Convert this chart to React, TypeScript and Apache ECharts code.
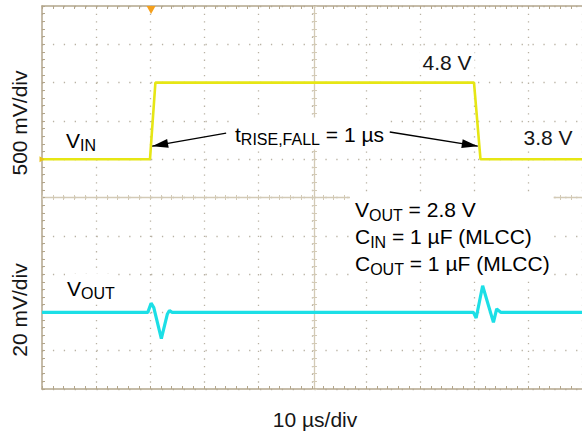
import React, { useEffect, useRef } from "react";
import * as echarts from "echarts";

// ---- Data read from the scope capture ----
// Time axis: 10 µs/div, 10 divisions
const timeMinUs = 0;
const timeMaxUs = 100;
const timeDivUs = 10;

// VIN channel (500 mV/div), 3.8 V level sits on division 6
const vinTimeUs = [0, 20, 21, 80, 81.2, 100];
const vinVolts = [3.8, 3.8, 4.8, 4.8, 3.8, 3.8];

// VOUT channel (20 mV/div, AC), baseline on division 2
const voutTimeUs = [0, 19.6, 20.2, 20.7, 22.1, 23.2, 23.6, 24.1, 79.9, 80.4, 81.6, 83.6, 84.2, 85.0, 100];
const voutDeviationMv = [0, 0, 4.8, 2.5, -13.7, -1.0, 1.0, 0, 0, -2.9, 13.9, -5.2, 1.8, 0, 0];

// Annotation arrows (time µs, VIN volts)
const arrowTailUs = [34.1, 64.4];
const arrowTailV = [4.14, 4.155];
const arrowTipUs = [20.4, 80.7];
const arrowTipV = [3.97, 3.97];

// Channel scaling
const VIN_V_PER_DIV = 0.5;
const VIN_REF_V = 3.8;
const VIN_REF_DIV = 6;
const VOUT_MV_PER_DIV = 20;
const VOUT_REF_DIV = 2;
const DIVISIONS = 10;

const vinToDiv = (v: number) => VIN_REF_DIV + (v - VIN_REF_V) / VIN_V_PER_DIV;
const voutToDiv = (mv: number) => VOUT_REF_DIV + mv / VOUT_MV_PER_DIV;

const FONT = "'Liberation Sans', Arial, Helvetica, sans-serif";
const TEXT = "#161616";
const BORDER = "#b3a68c";
const CENTER = "#d3cab6";
const DOT = "#b9b2a4";
const YELLOW = "#e6e614";
const CYAN = "#1cdfe6";

const GRID = { left: 42, top: 6, width: 545, height: 383 };

export default function App() {
  const ref = useRef<HTMLDivElement>(null);

  useEffect(() => {
    if (!ref.current) return;
    const chart = echarts.init(ref.current, undefined, { renderer: "svg" });

    const xCommon = {
      type: "value" as const,
      min: timeMinUs,
      max: timeMaxUs,
      interval: timeDivUs,
      axisLabel: { show: false },
      splitLine: { show: false },
    };
    const yCommon = {
      type: "value" as const,
      min: 0,
      max: DIVISIONS,
      interval: 1,
      axisLabel: { show: false },
      splitLine: { show: false },
    };
    const tick = (color: string, inside: boolean, len: number) => ({
      axisTick: { show: true, inside, length: len, lineStyle: { color, width: 1 } },
      minorTick: { show: true, splitNumber: 5, length: len, lineStyle: { color, width: 1 } },
    });

    const rich = (lh: number) => ({
      b: { fontSize: 21, lineHeight: lh, fontFamily: FONT, color: TEXT },
      s: { fontSize: 16, verticalAlign: "bottom", fontFamily: FONT, color: TEXT },
    });

    const option: any = {
      animation: false,
      backgroundColor: "#ffffff",
      grid: { ...GRID, containLabel: false },
      xAxis: [
        {
          ...xCommon,
          position: "bottom",
          axisLine: { show: true, onZero: false, lineStyle: { color: BORDER, width: 1.5 } },
          ...tick(BORDER, true, 3),
          splitLine: { show: true, lineStyle: { color: DOT, width: 1.3, type: [1.3, 6.36] } },
        },
        {
          ...xCommon,
          position: "top",
          axisLine: { show: true, onZero: false, lineStyle: { color: BORDER, width: 1.5 } },
          ...tick(BORDER, true, 3),
        },
        {
          ...xCommon,
          position: "bottom",
          offset: -GRID.height / 2,
          axisLine: { show: true, onZero: false, lineStyle: { color: CENTER, width: 1.3 } },
          ...tick(CENTER, false, 2.5),
        },
        {
          ...xCommon,
          position: "bottom",
          offset: -GRID.height / 2,
          axisLine: { show: false, onZero: false },
          ...tick(CENTER, true, 2.5),
        },
      ],
      yAxis: [
        {
          ...yCommon,
          position: "left",
          axisLine: { show: true, onZero: false, lineStyle: { color: BORDER, width: 1.5 } },
          ...tick(BORDER, true, 3),
          splitLine: { show: true, lineStyle: { color: DOT, width: 1.3, type: [1.3, 9.6] } },
        },
        {
          ...yCommon,
          position: "left",
          offset: -GRID.width / 2,
          axisLine: { show: true, onZero: false, lineStyle: { color: CENTER, width: 1.3 } },
          ...tick(CENTER, false, 2.5),
        },
        {
          ...yCommon,
          position: "left",
          offset: -GRID.width / 2,
          axisLine: { show: false, onZero: false },
          ...tick(CENTER, true, 2.5),
        },
      ],
      series: [
        {
          type: "line",
          name: "VIN",
          xAxisIndex: 0,
          yAxisIndex: 0,
          data: vinTimeUs.map((t, i) => [t, vinToDiv(vinVolts[i])]),
          showSymbol: false,
          symbol: "none",
          lineStyle: { color: YELLOW, width: 2.6 },
          z: 3,
          silent: true,
          markPoint: {
            silent: true,
            label: { show: false },
            data: [
              {
                coord: [20.2, DIVISIONS],
                symbol: "triangle",
                symbolRotate: 180,
                symbolSize: [9, 8],
                symbolOffset: [0, 4],
                itemStyle: { color: "#f5a01c" },
              },
              {
                coord: [0, VIN_REF_DIV],
                symbol: "triangle",
                symbolRotate: -90,
                symbolSize: [6, 5],
                symbolOffset: [0, 0],
                itemStyle: { color: "#e8c21a" },
              },
            ],
          },
          markLine: {
            silent: true,
            symbol: ["none", "triangle"],
            symbolSize: [9, 16],
            symbolOffset: [[0, 0], [0, 8]],
            label: { show: false },
            lineStyle: { color: "#000000", width: 1.3, type: "solid" },
            data: arrowTailUs.map((t, i) => [
              { coord: [t, vinToDiv(arrowTailV[i])] },
              { coord: [arrowTipUs[i], vinToDiv(arrowTipV[i])] },
            ]),
          },
        },
        {
          type: "line",
          name: "VOUT",
          xAxisIndex: 0,
          yAxisIndex: 0,
          data: voutTimeUs.map((t, i) => [t, voutToDiv(voutDeviationMv[i])]),
          showSymbol: false,
          symbol: "none",
          lineStyle: { color: CYAN, width: 3.2 },
          z: 3,
          silent: true,
        },
      ],
      graphic: [
        {
          type: "text",
          z: 50,
          x: 64,
          y: 126,
          style: {
            text: "{b|V}{s|IN}",
            rich: rich(26),
            verticalAlign: "top",
            backgroundColor: "#ffffff",
            padding: [1, 2],
          },
        },
        {
          type: "text",
          z: 50,
          x: 65,
          y: 274,
          style: {
            text: "{b|V}{s|OUT}",
            rich: rich(26),
            verticalAlign: "top",
            backgroundColor: "#ffffff",
            padding: [1, 2],
          },
        },
        {
          type: "text",
          z: 50,
          x: 232,
          y: 117.5,
          style: {
            text: "{b|t}{s|RISE,FALL}{b| = 1 µs}",
            rich: rich(26),
            verticalAlign: "top",
            backgroundColor: "#ffffff",
            padding: [4, 3, 2, 3],
          },
        },
        {
          type: "text",
          z: 50,
          x: 350,
          y: 194,
          style: {
            text:
              "{b|V}{s|OUT}{b| = 2.8 V}\n{b|C}{s|IN}{b| = 1 µF (MLCC)}\n{b|C}{s|OUT}{b| = 1 µF (MLCC)}",
            rich: rich(27),
            verticalAlign: "top",
            backgroundColor: "#ffffff",
            padding: [2, 4, 2, 5],
          },
        },
        {
          type: "text",
          z: 50,
          x: 447,
          y: 62,
          style: {
            text: "4.8 V",
            font: `21px ${FONT}`,
            fill: TEXT,
            align: "center",
            verticalAlign: "middle",
            backgroundColor: "#ffffff",
            padding: [2, 3],
          },
        },
        {
          type: "text",
          z: 50,
          x: 548,
          y: 137,
          style: {
            text: "3.8 V",
            font: `21px ${FONT}`,
            fill: TEXT,
            align: "center",
            verticalAlign: "middle",
            backgroundColor: "#ffffff",
            padding: [2, 3],
          },
        },
        {
          type: "text",
          z: 50,
          x: 19.5,
          y: 123,
          rotation: Math.PI / 2,
          style: {
            text: "500 mV/div",
            font: `21px ${FONT}`,
            fill: TEXT,
            align: "center",
            verticalAlign: "middle",
          },
        },
        {
          type: "text",
          z: 50,
          x: 19.5,
          y: 310,
          rotation: Math.PI / 2,
          style: {
            text: "20 mV/div",
            font: `21px ${FONT}`,
            fill: TEXT,
            align: "center",
            verticalAlign: "middle",
          },
        },
        {
          type: "text",
          z: 50,
          x: 315,
          y: 419,
          style: {
            text: "10 µs/div",
            font: `21px ${FONT}`,
            fill: TEXT,
            align: "center",
            verticalAlign: "middle",
          },
        },
      ],
    };

    chart.setOption(option);
    return () => chart.dispose();
  }, []);

  return (
    <div
      ref={ref}
      style={{ position: "fixed", left: 0, top: 0, width: 582, height: 436, background: "#fff" }}
    />
  );
}
